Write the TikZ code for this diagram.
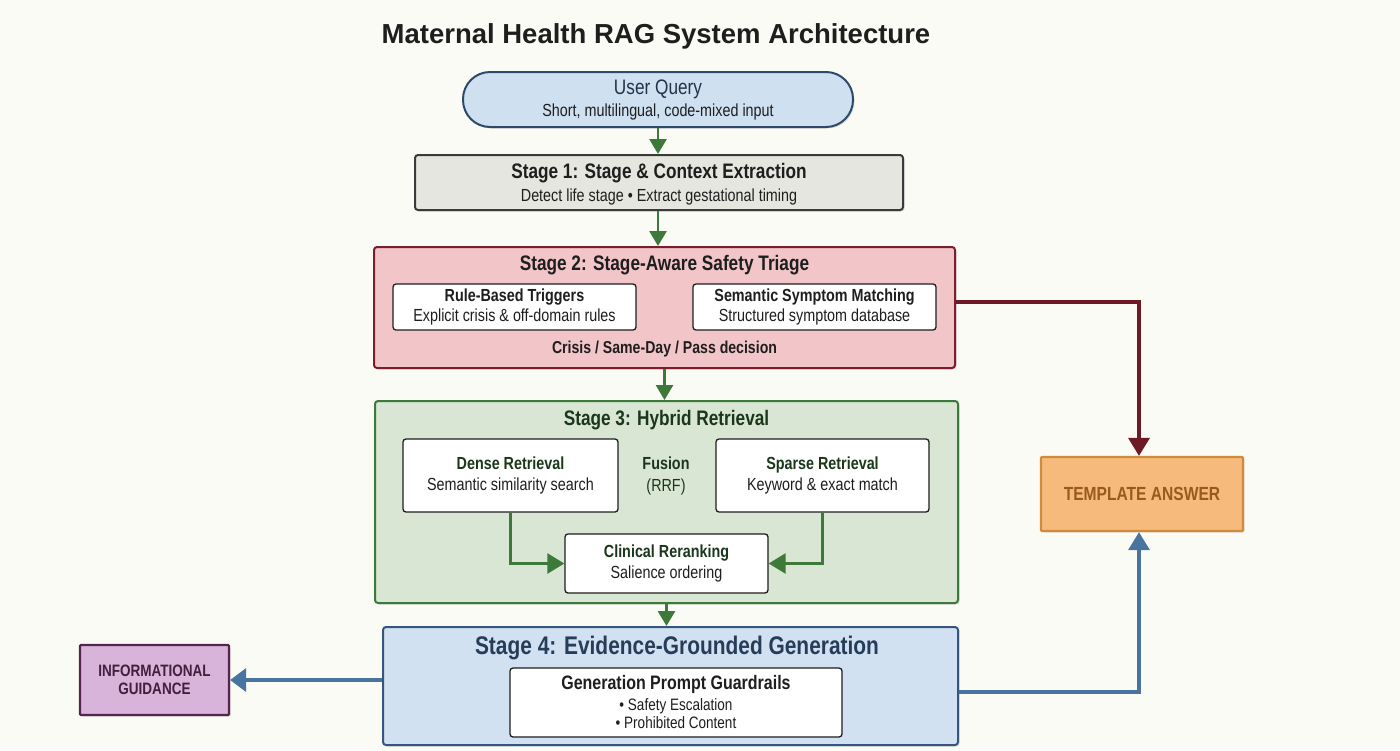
\documentclass[tikz,border=0pt]{standalone}
\usepackage{fontspec}
\setmainfont[FakeStretch=0.82]{Liberation Sans}
\newfontfamily\titlefont{Liberation Sans}
\usetikzlibrary{arrows.meta,shadows}
\definecolor{bg}{HTML}{FBFBF6}
\definecolor{uqfill}{HTML}{CFE0F1}
\definecolor{uqdraw}{HTML}{2E4A6B}
\definecolor{s1fill}{HTML}{E6E6E0}
\definecolor{s1draw}{HTML}{3A3A3A}
\definecolor{s2fill}{HTML}{F2C5C8}
\definecolor{s2draw}{HTML}{7A1E2B}
\definecolor{s3fill}{HTML}{D8E6D3}
\definecolor{s3draw}{HTML}{3B7A3B}
\definecolor{s4fill}{HTML}{D2E1F1}
\definecolor{s4draw}{HTML}{35577F}
\definecolor{pfill}{HTML}{D8B4DA}
\definecolor{pdraw}{HTML}{55244F}
\definecolor{ofill}{HTML}{F5BA7C}
\definecolor{odraw}{HTML}{D08B3C}
\definecolor{otext}{HTML}{9A5A1E}
\definecolor{garrow}{HTML}{3D7A3A}
\definecolor{rarrow}{HTML}{6E1A26}
\definecolor{barrow}{HTML}{4A74A0}
\definecolor{txt}{HTML}{1E1E1E}
\tikzset{
  box/.style={rectangle, rounded corners=3pt, line width=2pt, inner sep=0pt},
  stagebox/.style={box, drop shadow={shadow xshift=1.5pt, shadow yshift=-1.5pt, opacity=0.25}},
  innerbox/.style={box, fill=white, draw=txt, line width=1.3pt, align=center, text=txt, font=\fontsize{17.5}{20.5}\selectfont},
  flow/.style={line width=2.8pt, garrow, -{Triangle[width=17pt,length=15pt]}},
  small flow/.style={line width=2.6pt, garrow, -{Triangle[width=20pt,length=17pt]}},
  side flow/.style={line width=3.4pt, -{Triangle[width=21pt,length=18pt]}},
}
\begin{document}
\begin{tikzpicture}[x=1pt,y=-1pt]
\fill[bg] (0,0) rectangle (1400,750);
\useasboundingbox (0,0) rectangle (1400,750);

% title
\node[font=\titlefont\bfseries\fontsize{27.5}{31}\selectfont, text=txt] (title) at (656,36) {Maternal Health RAG System Architecture};

% user query
\node[stagebox, rounded corners=27pt, fill=uqfill, draw=uqdraw, minimum width=390pt, minimum height=55pt] (uq) at (658,99.5) {};
\node[text=uqdraw!70!black, font=\fontsize{21}{24}\selectfont] (uqt) at (658,89) {User Query};
\node[text=txt, font=\fontsize{17.5}{20}\selectfont] (uqs) at (658,112) {Short, multilingual, code-mixed input};

% stage 1
\node[stagebox, fill=s1fill, draw=s1draw, minimum width=488pt, minimum height=55pt] (s1) at (659,182.5) {};
\node[text=txt, font=\bfseries\fontsize{21}{24}\selectfont] (s1t) at (659,173) {Stage 1: Stage \& Context Extraction};
\node[text=txt, font=\fontsize{17.5}{20}\selectfont] (s1s) at (659,197) {Detect life stage \textbullet\ Extract gestational timing};

% stage 2
\node[stagebox, fill=s2fill, draw=s2draw, minimum width=581pt, minimum height=121pt] (s2) at (664.5,307.5) {};
\node[text=txt, font=\bfseries\fontsize{21}{24}\selectfont] (s2t) at (664.5,265) {Stage 2: Stage-Aware Safety Triage};
\node[innerbox, minimum width=243pt, minimum height=46pt] (rb) at (514.5,307) {\textbf{Rule-Based Triggers}\\Explicit crisis \& off-domain rules};
\node[innerbox, minimum width=243pt, minimum height=46pt] (sm) at (814.5,307) {\textbf{Semantic Symptom Matching}\\Structured symptom database};
\node[text=txt, font=\bfseries\fontsize{17.2}{20}\selectfont] (s2d) at (664.5,349) {Crisis / Same-Day / Pass decision};

% stage 3
\node[stagebox, fill=s3fill, draw=s3draw, minimum width=583pt, minimum height=202pt] (s3) at (666.5,502) {};
\node[text=s3draw!45!black, font=\bfseries\fontsize{21}{24}\selectfont] (s3t) at (666.5,420) {Stage 3: Hybrid Retrieval};
\node[innerbox, minimum width=215pt, minimum height=73pt] (dr) at (510.5,475.5) {\textcolor{s3draw!45!black}{\textbf{Dense Retrieval}}\\Semantic similarity search};
\node[innerbox, minimum width=213pt, minimum height=73pt] (sr) at (822.5,475.5) {\textcolor{s3draw!45!black}{\textbf{Sparse Retrieval}}\\Keyword \& exact match};
\node[text=s3draw!45!black, align=center, font=\fontsize{17.5}{21.5}\selectfont] (fu) at (666,476) {\textbf{Fusion}\\(RRF)};
\node[innerbox, minimum width=203pt, minimum height=59pt] (cr) at (666.5,563.5) {\textcolor{s3draw!45!black}{\textbf{Clinical Reranking}}\\Salience ordering};

% stage 4
\node[stagebox, fill=s4fill, draw=s4draw, minimum width=575pt, minimum height=118pt] (s4) at (670.5,686) {};
\node[text=s4draw!70!black, font=\bfseries\fontsize{25.5}{29}\selectfont] (s4t) at (677,648) {Stage 4: Evidence-Grounded Generation};
\node[box, fill=white, draw=txt, line width=1.3pt, minimum width=332pt, minimum height=69pt] (gp) at (676,702.5) {};
\node[text=txt, font=\bfseries\fontsize{19.5}{22}\selectfont] (gpt) at (676,684) {Generation Prompt Guardrails};
\node[text=txt, align=center, font=\fontsize{16.5}{17.5}\selectfont] (gpl) at (676,713.5) {\textbullet\ Safety Escalation\\\textbullet\ Prohibited Content};

% outputs
\node[box, rounded corners=1pt, fill=pfill, draw=pdraw, line width=2.2pt, minimum width=149pt, minimum height=70pt, align=center, text=pdraw!80!black, font=\bfseries\fontsize{16.5}{18}\selectfont, drop shadow={shadow xshift=1.5pt, shadow yshift=-1.5pt, opacity=0.25}] (ig) at (154.5,680) {INFORMATIONAL\\GUIDANCE};
\node[box, rounded corners=1pt, fill=ofill, draw=odraw, line width=2.2pt, minimum width=202pt, minimum height=74pt, text=otext, font=\bfseries\fontsize{19}{22}\selectfont, drop shadow={shadow xshift=1.5pt, shadow yshift=-1.5pt, opacity=0.2}] (ta) at (1142,494) {TEMPLATE ANSWER};

% main flow arrows
\draw[flow] (uq.south) -- (uq.south |- s1.north);
\draw[flow] (uq.south |- s1.south) -- (uq.south |- s2.north);
\draw[flow] (s2.south) -- (s2.south |- s3.north);
\draw[flow] (s3.south) -- (s3.south |- s4.north);

% retrieval arrows
\draw[small flow] (dr.south) |- (cr.west);
\draw[small flow] (sr.south) |- (cr.east);

% side arrows
\coordinate (r1) at (1139,302);
\coordinate (b1) at (1139,692);
\draw[side flow, rarrow] (s2.east |- r1) -- (r1) -- (r1 |- ta.north);
\draw[side flow, barrow] (s4.east |- b1) -- (b1) -- (b1 |- ta.south);
\draw[side flow, barrow, -{Triangle[width=23pt,length=16pt]}] (s4.west |- ig.east) -- (ig.east);
\end{tikzpicture}
\end{document}
